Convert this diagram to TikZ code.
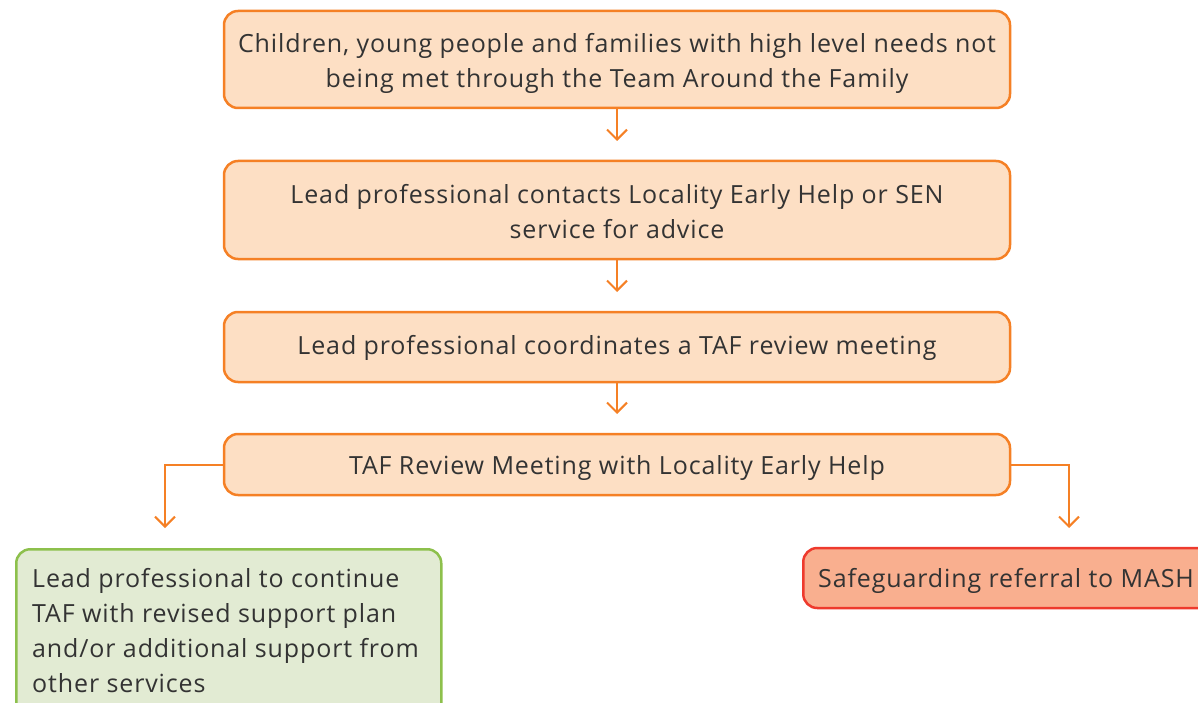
\documentclass[tikz,border=0pt]{standalone}
\usepackage{fontspec}
\setmainfont{Open Sans}[LetterSpace=3.5]
\usetikzlibrary{arrows.meta}
\definecolor{ofill}{HTML}{FDDFC4}
\definecolor{oline}{HTML}{F58025}
\definecolor{gfill}{HTML}{E2EBD3}
\definecolor{gline}{HTML}{8DC04C}
\definecolor{rfill}{HTML}{F9AF8F}
\definecolor{rline}{HTML}{EE3A2D}
\definecolor{txt}{HTML}{333333}
\tikzset{
  base/.style={rectangle, rounded corners=14pt, line width=2.5pt},
  obox/.style={base, draw=oline, fill=ofill, minimum width=786pt},
  gbox/.style={base, draw=gline, fill=gfill, anchor=north west,
    minimum width=425pt, minimum height=180pt},
  rbox/.style={base, draw=rline, fill=rfill, anchor=west,
    minimum width=420pt, minimum height=60pt},
  label text/.style={text=txt, font=\fontsize{25}{35}\selectfont, inner sep=0pt},
  ctext/.style={label text, align=center},
  ltext/.style={label text, align=left},
  conn/.style={draw=oline, line width=2pt, -{Straight Barb[length=10pt,width=20pt,line width=2pt]}}
}
\begin{document}
\begin{tikzpicture}[x=1pt,y=-1pt]
\useasboundingbox (0,0) rectangle (1198,703);
\node[obox, minimum height=97pt] (b1) at (617,59.5) {};
\node[obox, minimum height=98pt] (b2) at (617,210) {};
\node[obox, minimum height=70pt] (b3) at (617,347) {};
\node[obox, minimum height=61pt] (b4) at (617,464.5) {};
\node[gbox] (g) at (15,548) {};
\node[rbox] (r) at (802,578) {};
\node[ctext] (b1t) at (617,63.5) {Children, young people and families with high level needs not\\being met through the Team Around the Family};
\node[ctext] (b2t) at (617,212) {Lead professional contacts Locality Early Help or SEN\\service for advice};
\node[ctext] (b3t) at (617,348) {Lead professional coordinates a TAF review meeting};
\node[ctext] (b4t) at (617,468.5) {TAF Review Meeting with Locality Early Help};
\node[ltext, anchor=north west] (gt) at (32,568) {Lead professional to continue\\TAF with revised support plan\\and/or additional support from\\other services};
\node[ltext, anchor=west] (rt) at (818,581) {Safeguarding referral to MASH};
\coordinate (t1) at (617,141);
\coordinate (t2) at (617,292);
\coordinate (t3) at (617,414);
\coordinate (tl) at (165,528);
\coordinate (tr) at (1069,528);
\draw[conn] (b1.south) -- (t1);
\draw[conn] (b2.south) -- (t2);
\draw[conn] (b3.south) -- (t3);
\draw[conn] (b4.west) -| (tl);
\draw[conn] (b4.east) -| (tr);
\end{tikzpicture}
\end{document}
